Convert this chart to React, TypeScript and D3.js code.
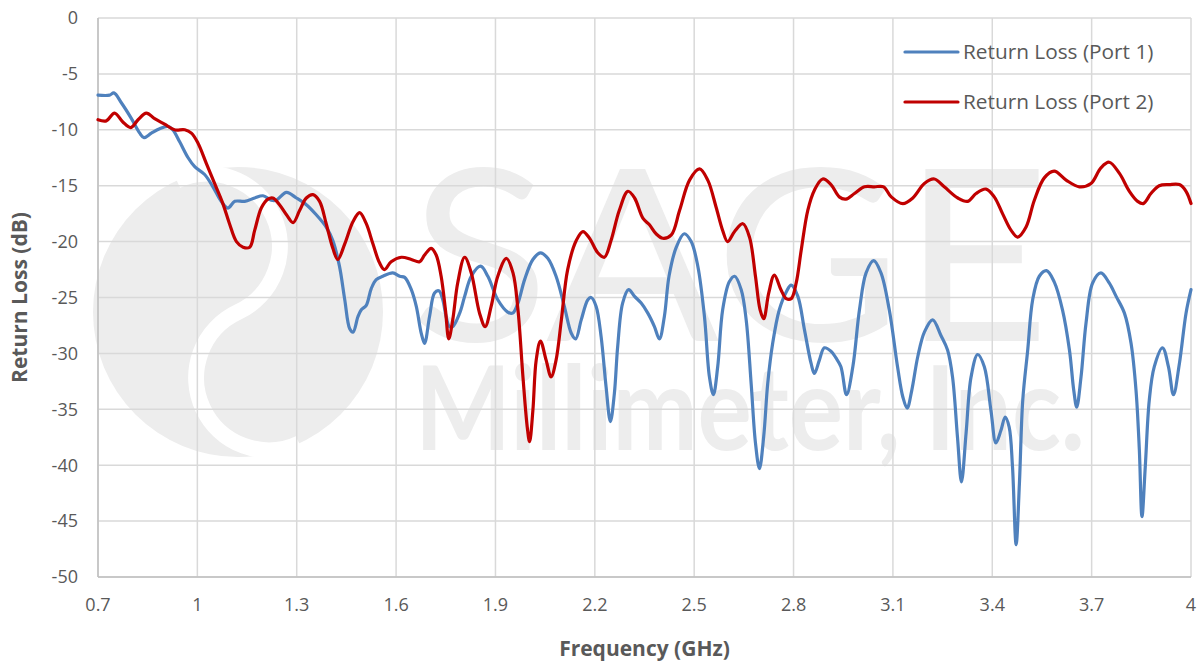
import { useEffect, useRef } from 'react';
import * as d3 from 'd3';

type Pt = [number, number];

// Return loss, port 1 (GHz, dB)
const port1: Pt[] = [
  [0.7, -6.9], [0.735, -6.9], [0.748, -6.7], [0.771, -7.6], [0.801, -9.0], [0.826, -10.3],
  [0.839, -10.7], [0.861, -10.3], [0.886, -9.9], [0.911, -9.7], [0.926, -10.0], [0.947, -11.1],
  [0.972, -12.5], [0.992, -13.3], [1.022, -14.0], [1.047, -15.1], [1.072, -16.4], [1.092, -17.0],
  [1.113, -16.4], [1.143, -16.4], [1.173, -16.1], [1.198, -15.9], [1.223, -16.3], [1.238, -16.3],
  [1.269, -15.6], [1.299, -16.1], [1.329, -16.7], [1.359, -17.6], [1.389, -18.7], [1.409, -19.9],
  [1.429, -22.2], [1.445, -25.2], [1.46, -27.8], [1.47, -28.1], [1.485, -26.7], [1.495, -26.1],
  [1.51, -25.7], [1.525, -24.2], [1.54, -23.4], [1.56, -23.1], [1.59, -22.8], [1.611, -23.1],
  [1.626, -23.2], [1.646, -24.3], [1.661, -25.8], [1.676, -28.2], [1.686, -29.1], [1.701, -26.7],
  [1.716, -24.6], [1.729, -24.4], [1.741, -25.2], [1.751, -26.7], [1.761, -27.6], [1.771, -27.6],
  [1.792, -26.4], [1.807, -24.9], [1.827, -23.1], [1.855, -22.2], [1.877, -23.1], [1.907, -25.2],
  [1.937, -26.3], [1.952, -26.4], [1.968, -25.5], [1.988, -23.4], [2.013, -21.6], [2.036, -21.0],
  [2.058, -21.5], [2.083, -23.1], [2.108, -25.8], [2.129, -28.2], [2.142, -28.7], [2.159, -27.0],
  [2.179, -25.2], [2.189, -25.0], [2.204, -25.8], [2.219, -28.5], [2.234, -33.0], [2.247, -36.1],
  [2.259, -33.6], [2.269, -29.4], [2.284, -25.5], [2.302, -24.3], [2.32, -24.9], [2.34, -25.5],
  [2.36, -26.4], [2.38, -27.6], [2.395, -28.7], [2.41, -26.7], [2.424, -23.1], [2.446, -20.5],
  [2.47, -19.3], [2.491, -20.0], [2.511, -22.2], [2.531, -26.7], [2.546, -32.1], [2.558, -33.7],
  [2.571, -31.2], [2.586, -26.1], [2.606, -23.6], [2.622, -23.1], [2.642, -24.3], [2.657, -27.0],
  [2.672, -32.7], [2.685, -38.0], [2.697, -40.3], [2.71, -37.4], [2.722, -32.7], [2.737, -29.1],
  [2.757, -26.1], [2.778, -24.5], [2.793, -23.9], [2.813, -24.9], [2.833, -27.9], [2.853, -30.9],
  [2.863, -31.8], [2.878, -30.6], [2.893, -29.5], [2.913, -29.8], [2.928, -30.4], [2.943, -31.2],
  [2.96, -33.7], [2.979, -31.2], [2.999, -26.1], [3.019, -22.8], [3.042, -21.7], [3.064, -22.8],
  [3.089, -26.1], [3.114, -31.2], [3.13, -33.9], [3.143, -34.9], [3.157, -33.3], [3.175, -30.3],
  [3.195, -28.1], [3.22, -27.0], [3.245, -28.4], [3.265, -29.7], [3.28, -32.1], [3.295, -37.5],
  [3.307, -41.5], [3.321, -37.1], [3.336, -32.1], [3.356, -30.1], [3.376, -31.2], [3.396, -35.1],
  [3.411, -38.0], [3.426, -36.9], [3.439, -35.7], [3.451, -36.6], [3.461, -40.1], [3.472, -47.1],
  [3.482, -41.6], [3.492, -34.2], [3.507, -29.7], [3.522, -25.2], [3.542, -23.1], [3.564, -22.6],
  [3.587, -23.6], [3.612, -26.1], [3.633, -29.7], [3.646, -33.3], [3.655, -34.8], [3.668, -32.1],
  [3.683, -27.3], [3.703, -23.7], [3.728, -22.8], [3.753, -23.7], [3.774, -24.9], [3.799, -26.4],
  [3.819, -29.1], [3.834, -33.3], [3.844, -38.6], [3.852, -44.6], [3.862, -40.1], [3.874, -34.2],
  [3.889, -31.2], [3.914, -29.5], [3.932, -31.2], [3.947, -33.7], [3.965, -30.9], [3.985, -26.4],
  [4.0, -24.3],
];

// Return loss, port 2 (GHz, dB)
const port2: Pt[] = [
  [0.7, -9.1], [0.725, -9.2], [0.75, -8.5], [0.775, -9.3], [0.799, -9.8], [0.821, -9.1],
  [0.846, -8.5], [0.871, -9.0], [0.901, -9.5], [0.931, -10.0], [0.962, -10.0], [0.982, -10.3],
  [1.002, -11.2], [1.027, -13.0], [1.052, -14.8], [1.077, -16.6], [1.097, -18.4], [1.118, -20.0],
  [1.138, -20.5], [1.158, -20.5], [1.173, -19.0], [1.193, -17.0], [1.213, -16.2], [1.228, -16.1],
  [1.248, -16.7], [1.269, -17.6], [1.289, -18.3], [1.309, -17.2], [1.329, -16.1], [1.349, -15.8],
  [1.369, -16.4], [1.389, -18.4], [1.409, -20.6], [1.424, -21.6], [1.445, -20.2], [1.47, -18.2],
  [1.49, -17.4], [1.51, -18.4], [1.53, -20.2], [1.55, -21.9], [1.565, -22.5], [1.585, -21.8],
  [1.616, -21.4], [1.646, -21.6], [1.671, -21.8], [1.686, -21.2], [1.706, -20.6], [1.721, -21.2],
  [1.736, -23.1], [1.749, -26.1], [1.759, -28.7], [1.771, -27.0], [1.786, -23.7], [1.807, -21.4],
  [1.827, -22.8], [1.852, -26.4], [1.869, -27.6], [1.887, -25.8], [1.907, -23.1], [1.933, -21.5],
  [1.953, -22.8], [1.968, -26.1], [1.983, -32.1], [1.996, -36.6], [2.003, -37.9], [2.013, -35.1],
  [2.023, -30.6], [2.036, -28.9], [2.053, -30.6], [2.068, -32.1], [2.083, -30.6], [2.099, -27.0],
  [2.118, -22.5], [2.144, -19.9], [2.164, -19.1], [2.184, -19.7], [2.209, -21.0], [2.229, -21.4],
  [2.249, -19.9], [2.274, -17.2], [2.3, -15.5], [2.32, -16.1], [2.345, -17.9], [2.365, -18.5],
  [2.385, -19.3], [2.405, -19.7], [2.431, -19.4], [2.456, -17.2], [2.486, -14.5], [2.516, -13.5],
  [2.541, -14.5], [2.566, -16.9], [2.586, -19.0], [2.601, -20.0], [2.622, -19.1], [2.647, -18.4],
  [2.667, -19.6], [2.685, -23.1], [2.699, -26.1], [2.71, -26.9], [2.725, -24.6], [2.742, -23.0],
  [2.762, -24.3], [2.778, -25.1], [2.793, -25.1], [2.808, -23.7], [2.823, -20.8], [2.843, -17.2],
  [2.863, -15.4], [2.888, -14.4], [2.913, -14.9], [2.938, -16.0], [2.958, -16.2], [2.984, -15.7],
  [3.014, -15.1], [3.044, -15.1], [3.072, -15.1], [3.095, -16.0], [3.13, -16.6], [3.16, -16.1],
  [3.195, -14.8], [3.225, -14.4], [3.255, -15.1], [3.296, -16.1], [3.326, -16.4], [3.351, -15.7],
  [3.381, -15.3], [3.406, -16.0], [3.431, -17.5], [3.457, -19.0], [3.477, -19.6], [3.502, -18.7],
  [3.527, -16.3], [3.557, -14.3], [3.587, -13.7], [3.623, -14.5], [3.663, -15.1], [3.698, -14.8],
  [3.728, -13.4], [3.753, -12.9], [3.784, -13.9], [3.814, -15.5], [3.839, -16.4], [3.856, -16.6],
  [3.879, -15.7], [3.904, -15.0], [3.934, -14.9], [3.965, -14.9], [3.985, -15.5], [4.0, -16.6],
];

const xTicks = [0.7, 1, 1.3, 1.6, 1.9, 2.2, 2.5, 2.8, 3.1, 3.4, 3.7, 4];
const yTicks = [0, -5, -10, -15, -20, -25, -30, -35, -40, -45, -50];
const seriesNames = ['Return Loss (Port 1)', 'Return Loss (Port 2)'];
const seriesColors = ['#4f81bd', '#c00000'];

const FONT = '"Open Sans", Lato, sans-serif';

const ReturnLossChart: React.FC = () => {
  const svgRef = useRef<SVGSVGElement | null>(null);

  useEffect(() => {
    if (svgRef.current === null) return;
    const W = 1200;
    const H = 662;
    const margin = { top: 18, right: 9, bottom: 85, left: 98 };
    const width = W - margin.left - margin.right;
    const height = H - margin.top - margin.bottom;

    const root = d3.select(svgRef.current);
    root.selectAll('*').remove();
    root.attr('width', W).attr('height', H);

    const x = d3.scaleLinear().domain([0.7, 4]).range([0, width]);
    const y = d3.scaleLinear().domain([-50, 0]).range([height, 0]);

    // watermark logo (drawn first, behind the grid)
    const wm = root.append('g').attr('fill', '#ededed');
    wm.append('circle').attr('cx', 238).attr('cy', 312).attr('r', 145);
    wm.append('path')
      .attr('d', 'M238,167 A72.5,72.5 0 0 1 238,312 A72.5,72.5 0 0 0 238,457')
      .attr('fill', 'none')
      .attr('stroke', '#fff')
      .attr('stroke-width', 16)
      .attr('transform', 'rotate(-25 238 312)');
    wm.append('text')
      .attr('x', 410)
      .attr('y', 341)
      .attr('textLength', 640)
      .attr('lengthAdjust', 'spacingAndGlyphs')
      .style('font-family', 'Lato, sans-serif')
      .style('font-size', '240px')
      .text('SAGE');
    wm.append('text')
      .attr('x', 415)
      .attr('y', 450)
      .attr('textLength', 670)
      .attr('lengthAdjust', 'spacingAndGlyphs')
      .style('font-family', 'Lato, sans-serif')
      .style('font-weight', 'bold')
      .style('font-size', '116px')
      .text('Millimeter, Inc.');

    const svg = root.append('g').attr('transform', `translate(${margin.left},${margin.top})`);

    // grid
    svg.selectAll('.hgrid')
      .data(yTicks)
      .enter()
      .append('line')
      .attr('x1', 0)
      .attr('x2', width)
      .attr('y1', (d) => y(d))
      .attr('y2', (d) => y(d))
      .attr('stroke', '#d9d9d9')
      .attr('stroke-width', 1.5);
    svg.selectAll('.vgrid')
      .data(xTicks)
      .enter()
      .append('line')
      .attr('x1', (d) => x(d))
      .attr('x2', (d) => x(d))
      .attr('y1', 0)
      .attr('y2', height)
      .attr('stroke', '#d9d9d9')
      .attr('stroke-width', 1.5);

    // axis lines
    svg.append('line').attr('x1', 0).attr('x2', 0).attr('y1', 0).attr('y2', height)
      .attr('stroke', '#bfbfbf').attr('stroke-width', 1.5);
    svg.append('line').attr('x1', 0).attr('x2', width).attr('y1', height).attr('y2', height)
      .attr('stroke', '#bfbfbf').attr('stroke-width', 1.5);

    // tick labels
    svg.selectAll('.ylab')
      .data(yTicks)
      .enter()
      .append('text')
      .attr('x', -20)
      .attr('y', (d) => y(d))
      .attr('dy', '0.35em')
      .attr('text-anchor', 'end')
      .attr('fill', '#595959')
      .style('font-family', FONT)
      .style('font-size', '18px')
      .text((d) => String(d));
    svg.selectAll('.xlab')
      .data(xTicks)
      .enter()
      .append('text')
      .attr('x', (d) => x(d))
      .attr('y', height + 34)
      .attr('text-anchor', 'middle')
      .attr('fill', '#595959')
      .style('font-family', FONT)
      .style('font-size', '18px')
      .text((d) => String(d));

    // axis titles
    root.append('text')
      .attr('transform', `translate(27,${margin.top + height / 2}) rotate(-90)`)
      .attr('text-anchor', 'middle')
      .attr('fill', '#595959')
      .style('font-family', FONT)
      .style('font-weight', 'bold')
      .style('font-size', '21px')
      .text('Return Loss (dB)');
    root.append('text')
      .attr('x', margin.left + width / 2)
      .attr('y', 656)
      .attr('text-anchor', 'middle')
      .attr('fill', '#595959')
      .style('font-family', FONT)
      .style('font-weight', 'bold')
      .style('font-size', '21px')
      .text('Frequency (GHz)');

    // series
    const line = d3
      .line<Pt>()
      .x((d) => x(d[0]))
      .y((d) => y(d[1]))
      .curve(d3.curveCatmullRom.alpha(0.5));
    [port1, port2].forEach((s, i) => {
      svg.append('path')
        .datum(s)
        .attr('d', line)
        .attr('fill', 'none')
        .attr('stroke', seriesColors[i])
        .attr('stroke-width', 3.2)
        .attr('stroke-linejoin', 'round')
        .attr('stroke-linecap', 'round');
    });

    // legend
    const leg = root.append('g').attr('transform', 'translate(905,52)');
    seriesNames.forEach((name, i) => {
      leg.append('line')
        .attr('x1', 0).attr('x2', 53)
        .attr('y1', i * 50).attr('y2', i * 50)
        .attr('stroke', seriesColors[i])
        .attr('stroke-width', 3.2)
        .attr('stroke-linecap', 'round');
      leg.append('text')
        .attr('x', 58)
        .attr('y', i * 50)
        .attr('dy', '0.35em')
        .attr('fill', '#595959')
        .style('font-family', FONT)
        .style('font-size', '20.8px')
        .text(name);
    });
  }, []);

  return <svg ref={svgRef} style={{ position: 'absolute', left: 0, top: 0 }}></svg>;
};

export default function App() {
  return <ReturnLossChart />;
}
